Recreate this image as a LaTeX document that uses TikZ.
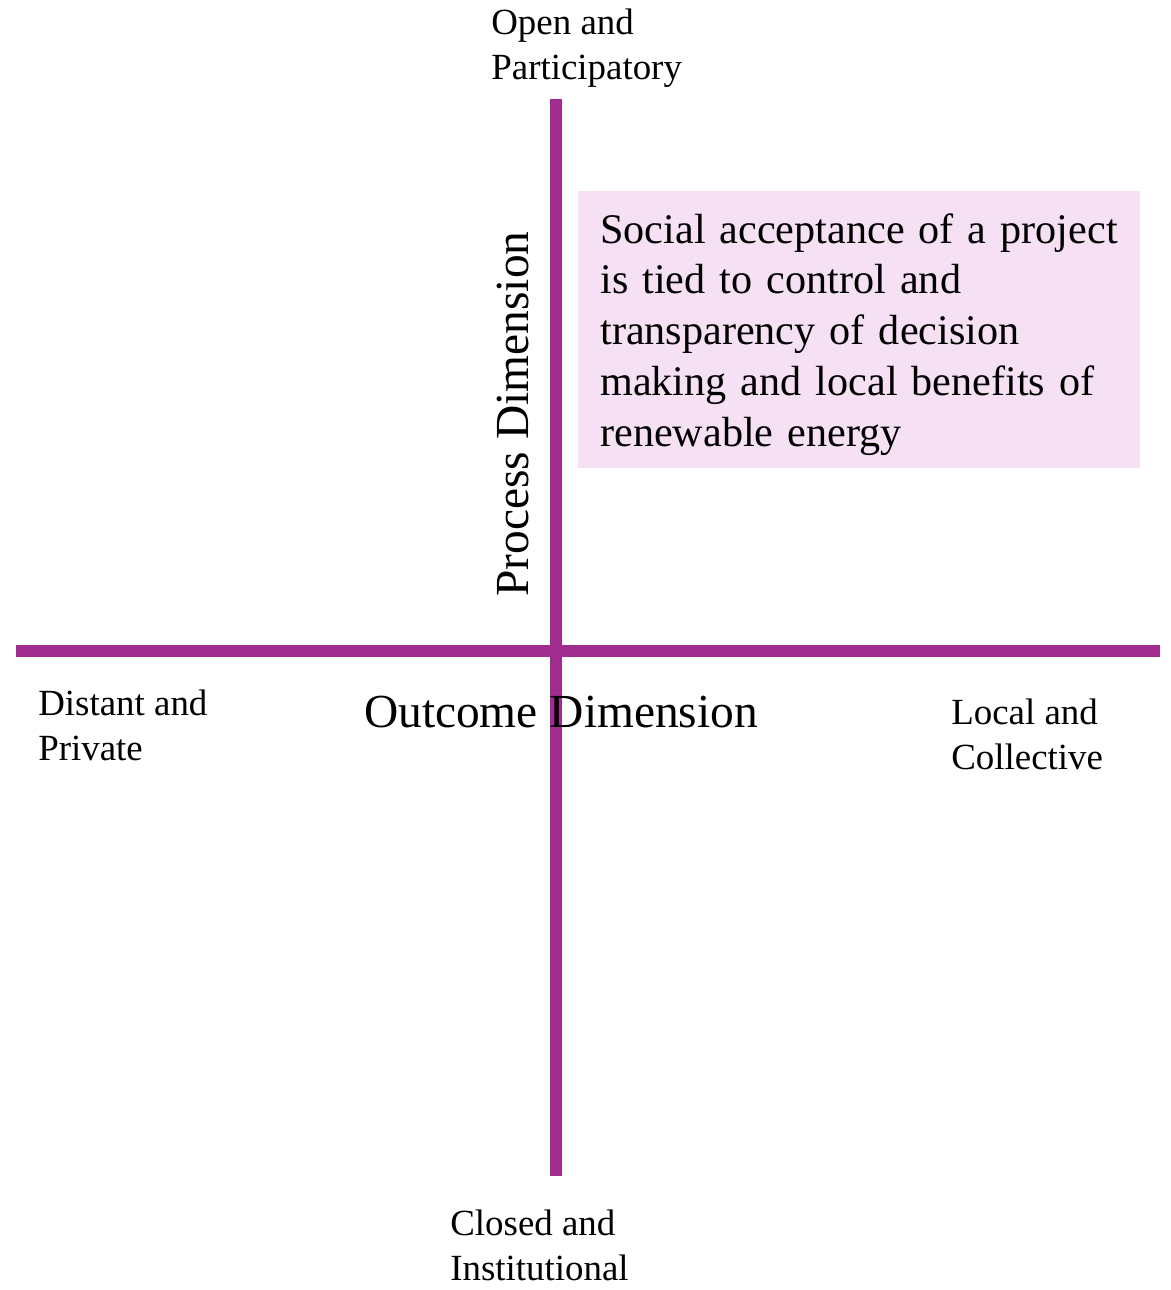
\documentclass[tikz,border=0pt]{standalone}
\usepackage{fontspec}
\setmainfont{Liberation Serif}
\usepackage{tikz}
\usetikzlibrary{positioning}
\definecolor{AxisPurple}{HTML}{A02C8F}
\definecolor{NotePink}{HTML}{F5E0F4}

\begin{document}
\begin{tikzpicture}[x=0.02cm, y=-0.02cm,
    axis/.style={draw=AxisPurple, line width=6.8pt},
    pole/.style={font=\fontsize{21}{25.5}\selectfont, align=left, inner sep=0pt, anchor=north west},
    dimlabel/.style={font=\fontsize{27}{32}\selectfont, inner sep=0pt, anchor=base},
    note/.style={fill=NotePink, font=\fontsize{24}{28.9}\selectfont, align=left,
                 text width=10.36cm, inner xsep=0.44cm, inner ysep=0pt,
                 minimum width=11.24cm, minimum height=5.54cm, anchor=north west},
  ]
    \useasboundingbox (0,0) rectangle (1170,1290);
    \coordinate (ptop)   at (556,99);
    \coordinate (pbot)   at (556,1176);
    \coordinate (oleft)  at (16,651);
    \coordinate (oright) at (1160,651);
    \draw[axis] (oleft) -- (oright);
    \draw[axis] (ptop)  -- (pbot);
    \node[note] (accept) at (578,191) {\rule{0pt}{22pt}Social acceptance of a project\\
      is tied to control and\\transparency of decision\\making and local benefits of\\renewable energy};
    \node[dimlabel, rotate=90] (process) at (528,414) {Process Dimension};
    \node[dimlabel] (outcome) at (561,727) {Outcome Dimension};
    \node[pole] (open)    at (491,9)    {Open and\\Participatory};
    \node[pole] (closed)  at (450,1210) {Closed and\\Institutional};
    \node[pole] (distant) at (38,690)   {Distant and\\Private};
    \node[pole] (local)   at (951,699)  {Local and\\Collective};
  \end{tikzpicture}
\end{document}
